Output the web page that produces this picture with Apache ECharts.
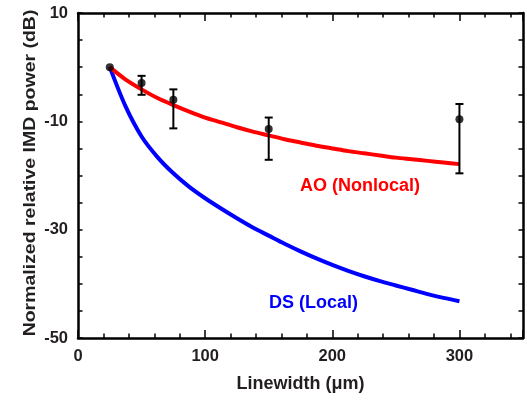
<!DOCTYPE html>
<html><head><meta charset="utf-8">
<script src="https://cdn.jsdelivr.net/npm/echarts@6/dist/echarts.min.js"></script>
<style>html,body{margin:0;padding:0;background:#fff}#c{width:527px;height:401px}</style>
</head><body><div id="c"></div>
<script>
// Curve sample positions (linewidth, µm)
const curveX = [25, 37.5, 50, 62.5, 75, 87.5, 100, 112.5, 125, 137.5, 150, 162.5, 175, 187.5, 200, 212.5, 225, 237.5, 250, 262.5, 275, 287.5, 300];
// AO (Nonlocal) model, dB
const aoY = [0, -2.3, -4.1, -5.7, -7.0, -8.2, -9.3, -10.2, -11.1, -11.9, -12.6, -13.3, -13.9, -14.5, -15.0, -15.5, -15.9, -16.3, -16.7, -17.0, -17.3, -17.6, -17.9];
// DS (Local) model, dB
const dsY = [0, -7.3, -12.8, -16.6, -19.6, -22.1, -24.2, -26.1, -27.9, -29.6, -31.1, -32.6, -34.0, -35.3, -36.5, -37.6, -38.6, -39.5, -40.3, -41.1, -41.9, -42.6, -43.2];
// Measured points
const measX = [25, 50, 75, 150, 300];
const measY = [0, -2.9, -6.0, -11.4, -9.6];
const errHi = [0, -1.6, -4.1, -9.3, -6.8];
const errLo = [0, -5.1, -11.3, -17.1, -19.6];
const xLabels = [0, 100, 200, 300];
const yLabels = [10, -10, -30, -50];

const FONT = '"Liberation Sans", Arial, sans-serif';
const TXT = '#231f20';
const chart = echarts.init(document.getElementById('c'), null, {renderer: 'canvas'});

const tickStyle = {color: '#000', width: 1.5};
const baseX = {
  type: 'value', min: 0, max: 350, interval: 20, gridIndex: 0,
  splitLine: {show: false},
  axisLine: {show: true, onZero: false, lineStyle: {color: '#000', width: 2.5}},
  axisTick: {show: true, inside: true, length: 4.5, lineStyle: tickStyle},
};
const baseY = {
  type: 'value', min: -50, max: 10, interval: 5, gridIndex: 0,
  splitLine: {show: false},
  axisLine: {show: true, onZero: false, lineStyle: {color: '#000', width: 2.5}},
  axisTick: {show: true, inside: true, length: 4.5, lineStyle: tickStyle},
};
const majorX = pos => Object.assign({}, baseX, {position: pos, interval: 100,
  axisLine: {show: false, onZero: false},
  axisTick: {show: true, inside: true, length: 8, lineStyle: tickStyle}, axisLabel: {show: false}});

const option = {
  animation: false,
  backgroundColor: '#fff',
  grid: {left: 78, right: 4, top: 13, bottom: 63, containLabel: false},
  xAxis: [
    Object.assign({}, baseX, {
      position: 'bottom',
      name: 'Linewidth (\u03bcm)', nameLocation: 'middle', nameGap: 37, nameMoveOverlap: false,
      nameTextStyle: {fontFamily: FONT, fontWeight: 'bold', fontSize: 18, color: TXT},
      axisLabel: {show: true, margin: 10, fontFamily: FONT, fontWeight: 'bold', fontSize: 16.5, color: TXT,
        formatter: v => xLabels.indexOf(v) >= 0 ? String(v) : ''}
    }),
    Object.assign({}, baseX, {position: 'top', axisLabel: {show: false}}),
    majorX('bottom'),
    majorX('top')
  ],
  yAxis: [
    Object.assign({}, baseY, {
      position: 'left',
      axisLabel: {show: true, margin: 10, fontFamily: FONT, fontWeight: 'bold', fontSize: 16.5, color: TXT,
        formatter: v => yLabels.indexOf(v) >= 0 ? String(v) : ''}
    }),
    Object.assign({}, baseY, {position: 'right', axisLabel: {show: false}})
  ],
  graphic: [
    {type: 'text', x: 30.5, y: 173, rotation: Math.PI / 2, scaleX: 1.18,
      style: {text: 'Normalized relative IMD power (dB)', fill: TXT, font: 'bold 16.5px ' + FONT, textAlign: 'center', textVerticalAlign: 'middle'}},
    {type: 'text', x: 360, y: 186, style: {text: 'AO (Nonlocal)', fill: '#ff0000', font: 'bold 18px ' + FONT, textAlign: 'center', textVerticalAlign: 'middle'}},
    {type: 'text', x: 313.5, y: 303, style: {text: 'DS (Local)', fill: '#0000ff', font: 'bold 18px ' + FONT, textAlign: 'center', textVerticalAlign: 'middle'}}
  ],
  series: [
    {type: 'line', xAxisIndex: 0, yAxisIndex: 0, data: curveX.map((x, i) => [x, dsY[i]]),
      smooth: 0.3, showSymbol: false, lineStyle: {color: '#0000ff', width: 4}, z: 2},
    {type: 'line', xAxisIndex: 0, yAxisIndex: 0, data: curveX.map((x, i) => [x, aoY[i]]),
      smooth: 0.3, showSymbol: false, lineStyle: {color: '#ff0000', width: 4}, z: 3},
    {type: 'custom', xAxisIndex: 0, yAxisIndex: 0, z: 4,
      data: measX.map((x, i) => [x, errHi[i], errLo[i]]),
      renderItem: function (params, api) {
        const hi = api.coord([api.value(0), api.value(1)]);
        const lo = api.coord([api.value(0), api.value(2)]);
        if (Math.abs(hi[1] - lo[1]) < 0.5) return null;
        const w = 4;
        const st = {stroke: '#000', lineWidth: 2};
        return {type: 'group', children: [
          {type: 'line', shape: {x1: hi[0], y1: hi[1], x2: lo[0], y2: lo[1]}, style: st},
          {type: 'line', shape: {x1: hi[0] - w, y1: hi[1], x2: hi[0] + w, y2: hi[1]}, style: st},
          {type: 'line', shape: {x1: lo[0] - w, y1: lo[1], x2: lo[0] + w, y2: lo[1]}, style: st}
        ]};
      }},
    {type: 'scatter', xAxisIndex: 0, yAxisIndex: 0, z: 5, data: measX.map((x, i) => [x, measY[i]]),
      symbol: 'circle', symbolSize: 8, itemStyle: {color: '#000'}}
  ]
};
chart.setOption(option);
</script></body></html>
